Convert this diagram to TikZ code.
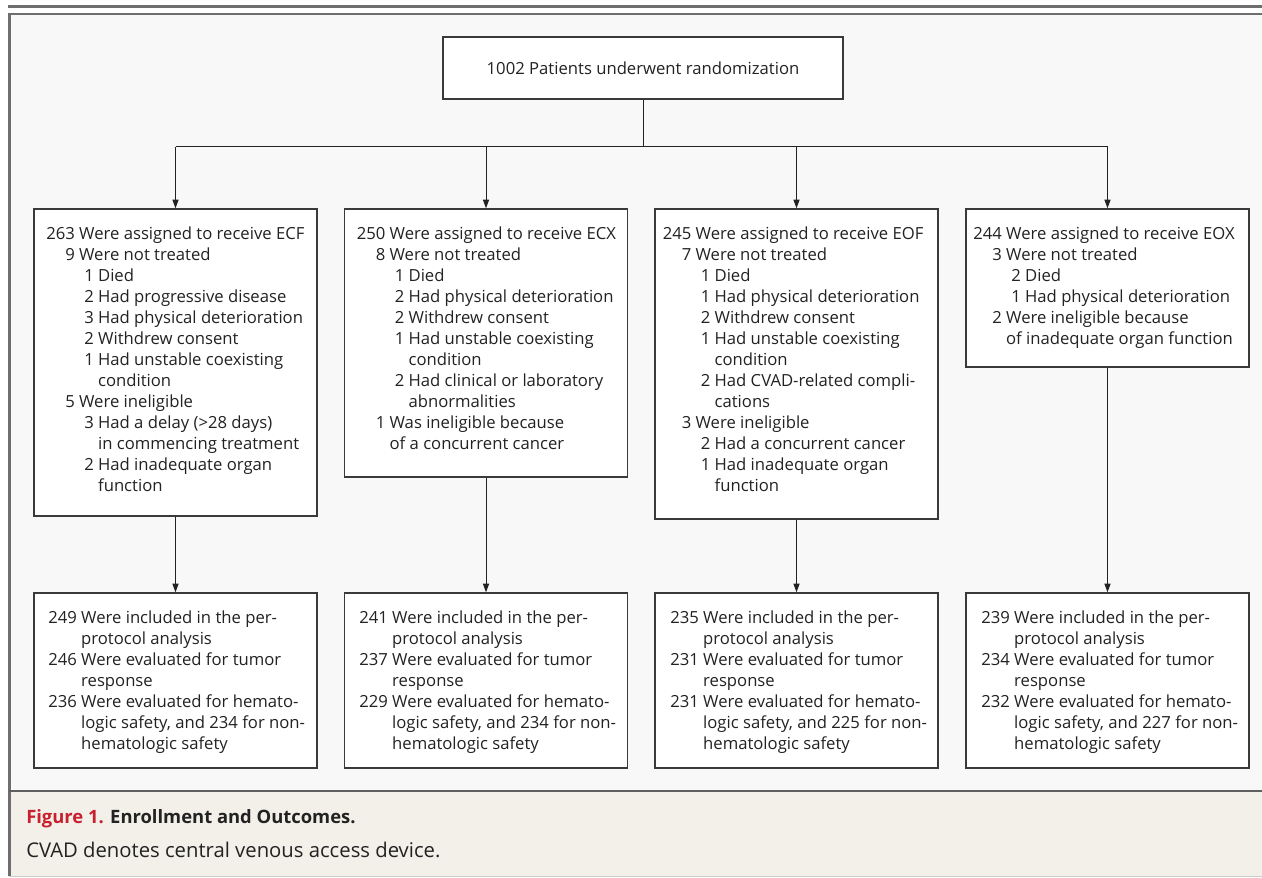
\documentclass[tikz,border=0pt]{standalone}
\usepackage{fontspec}
\setmainfont{Open Sans}
\usetikzlibrary{arrows.meta}
\definecolor{panelbg}{HTML}{F8F8F8}
\definecolor{capbg}{HTML}{F3F0EA}
\definecolor{rulegray}{HTML}{6E6E6E}
\definecolor{sepgray}{HTML}{5F5F5F}
\definecolor{boxline}{HTML}{3A3A3A}
\definecolor{txtcol}{HTML}{222222}
\definecolor{figred}{HTML}{C8202F}
\newcommand{\la}{\hspace*{14.25pt}}
\newcommand{\lb}{\hspace*{28.5pt}}
\newcommand{\cb}{\hspace*{28.5pt}\phantom{1 }}
\newcommand{\ca}{\hspace*{14.25pt}\phantom{1 }}
\newcommand{\hn}{\phantom{249 }}
\begin{document}
\begin{tikzpicture}[x=0.75pt,y=-0.75pt,
  box/.style={draw=boxline,line width=1.1pt,fill=white,minimum width=212.25pt,inner sep=0pt},
  txt/.style={anchor=base west,inner sep=0pt,align=left,text=txtcol,font=\fontsize{12.5}{15.75}\selectfont},
  conn/.style={draw=txtcol,line width=0.75pt},
  arr/.style={conn,-{Triangle[length=6.5pt,width=4.6pt]}}]
\useasboundingbox (0,0) rectangle (1262,877);
% frame and backgrounds
\fill[white] (0,0) rectangle (1262,877);
\fill[panelbg] (9,14) rectangle (1262,791);
\fill[capbg] (9,791) rectangle (1262,876);
\draw[rulegray,line width=1.9pt] (8,6.5) -- (1262,6.5);
\draw[rulegray,line width=1.6pt] (9.5,876) -- (9.5,14) -- (1262,14);
\draw[sepgray,line width=1.8pt] (9,791) -- (1262,791);
\draw[black!20,line width=0.8pt] (9,876.3) -- (1262,876.3);
% top box
\node[box,minimum width=300pt,minimum height=46.5pt] (top) at (643,68) {};
\node[anchor=base,inner sep=0pt,text=txtcol,font=\fontsize{12.5}{15.75}\selectfont] (toptxt) at (643,75) {1002 Patients underwent randomization};
% assignment boxes
\node[box,minimum height=230.25pt] (a1) at (175.5,362.5) {};
\node[box,minimum height=201pt] (a2) at (486,343) {};
\node[box,minimum height=232.5pt] (a3) at (796.5,364) {};
\node[box,minimum height=118.5pt] (a4) at (1107.5,288) {};
% outcome boxes
\node[box,minimum height=131.25pt] (o1) at (175.5,680.5) {};
\node[box,minimum height=131.25pt] (o2) at (486,680.5) {};
\node[box,minimum height=131.25pt] (o3) at (796.5,680.5) {};
\node[box,minimum height=131.25pt] (o4) at (1107.5,680.5) {};
% connectors
\coordinate (split) at (643,147);
\draw[conn] (top.south) -- (split);
\draw[conn] (a1.north |- split) -- (a4.north |- split);
\foreach \i in {1,2,3,4}{
  \draw[arr] (a\i.north |- split) -- (a\i.north);
  \draw[arr] (a\i.south) -- (o\i.north);
}
% assignment texts (anchor = baseline of last line)
\node[txt] (ta1) at (46,491.5) {263 Were assigned to receive ECF\\
\la 9 Were not treated\\
\lb 1 Died\\
\lb 2 Had progressive disease\\
\lb 3 Had physical deterioration\\
\lb 2 Withdrew consent\\
\lb 1 Had unstable coexisting\\
\cb condition\\
\la 5 Were ineligible\\
\lb 3 Had a delay (>28 days)\\
\cb in commencing treatment\\
\lb 2 Had inadequate organ\\
\cb function};
\node[txt] (ta2) at (356.5,449.5) {250 Were assigned to receive ECX\\
\la 8 Were not treated\\
\lb 1 Died\\
\lb 2 Had physical deterioration\\
\lb 2 Withdrew consent\\
\lb 1 Had unstable coexisting\\
\cb condition\\
\lb 2 Had clinical or laboratory\\
\cb abnormalities\\
\la 1 Was ineligible because\\
\ca of a concurrent cancer};
\node[txt] (ta3) at (662.5,491.5) {245 Were assigned to receive EOF\\
\la 7 Were not treated\\
\lb 1 Died\\
\lb 1 Had physical deterioration\\
\lb 2 Withdrew consent\\
\lb 1 Had unstable coexisting\\
\cb condition\\
\lb 2 Had CVAD-related compli-\\
\cb cations\\
\la 3 Were ineligible\\
\lb 2 Had a concurrent cancer\\
\lb 1 Had inadequate organ\\
\cb function};
\node[txt] (ta4) at (973,344.5) {244 Were assigned to receive EOX\\
\la 3 Were not treated\\
\lb 2 Died\\
\lb 1 Had physical deterioration\\
\la 2 Were ineligible because\\
\ca of inadequate organ function};
% outcome texts
\node[txt] (to1) at (48,749) {249 Were included in the per-\\
\hn protocol analysis\\
246 Were evaluated for tumor\\
\hn response\\
236 Were evaluated for hemato-\\
\hn logic safety, and 234 for non-\\
\hn hematologic safety};
\node[txt] (to2) at (359,749) {241 Were included in the per-\\
\hn protocol analysis\\
237 Were evaluated for tumor\\
\hn response\\
229 Were evaluated for hemato-\\
\hn logic safety, and 234 for non-\\
\hn hematologic safety};
\node[txt] (to3) at (670,749) {235 Were included in the per-\\
\hn protocol analysis\\
231 Were evaluated for tumor\\
\hn response\\
231 Were evaluated for hemato-\\
\hn logic safety, and 225 for non-\\
\hn hematologic safety};
\node[txt] (to4) at (981,749) {239 Were included in the per-\\
\hn protocol analysis\\
234 Were evaluated for tumor\\
\hn response\\
232 Were evaluated for hemato-\\
\hn logic safety, and 227 for non-\\
\hn hematologic safety};
% caption
\node[anchor=base west,inner sep=0pt,font=\fontsize{13.8}{18}\selectfont\bfseries] (cap1) at (26,823) {\textcolor{figred}{Figure 1.} \textcolor{txtcol}{Enrollment and Outcomes.}};
\node[anchor=base west,inner sep=0pt,text=txtcol,font=\fontsize{15.2}{18}\selectfont] (cap2) at (26,857) {CVAD denotes central venous access device.};
\end{tikzpicture}
\end{document}
